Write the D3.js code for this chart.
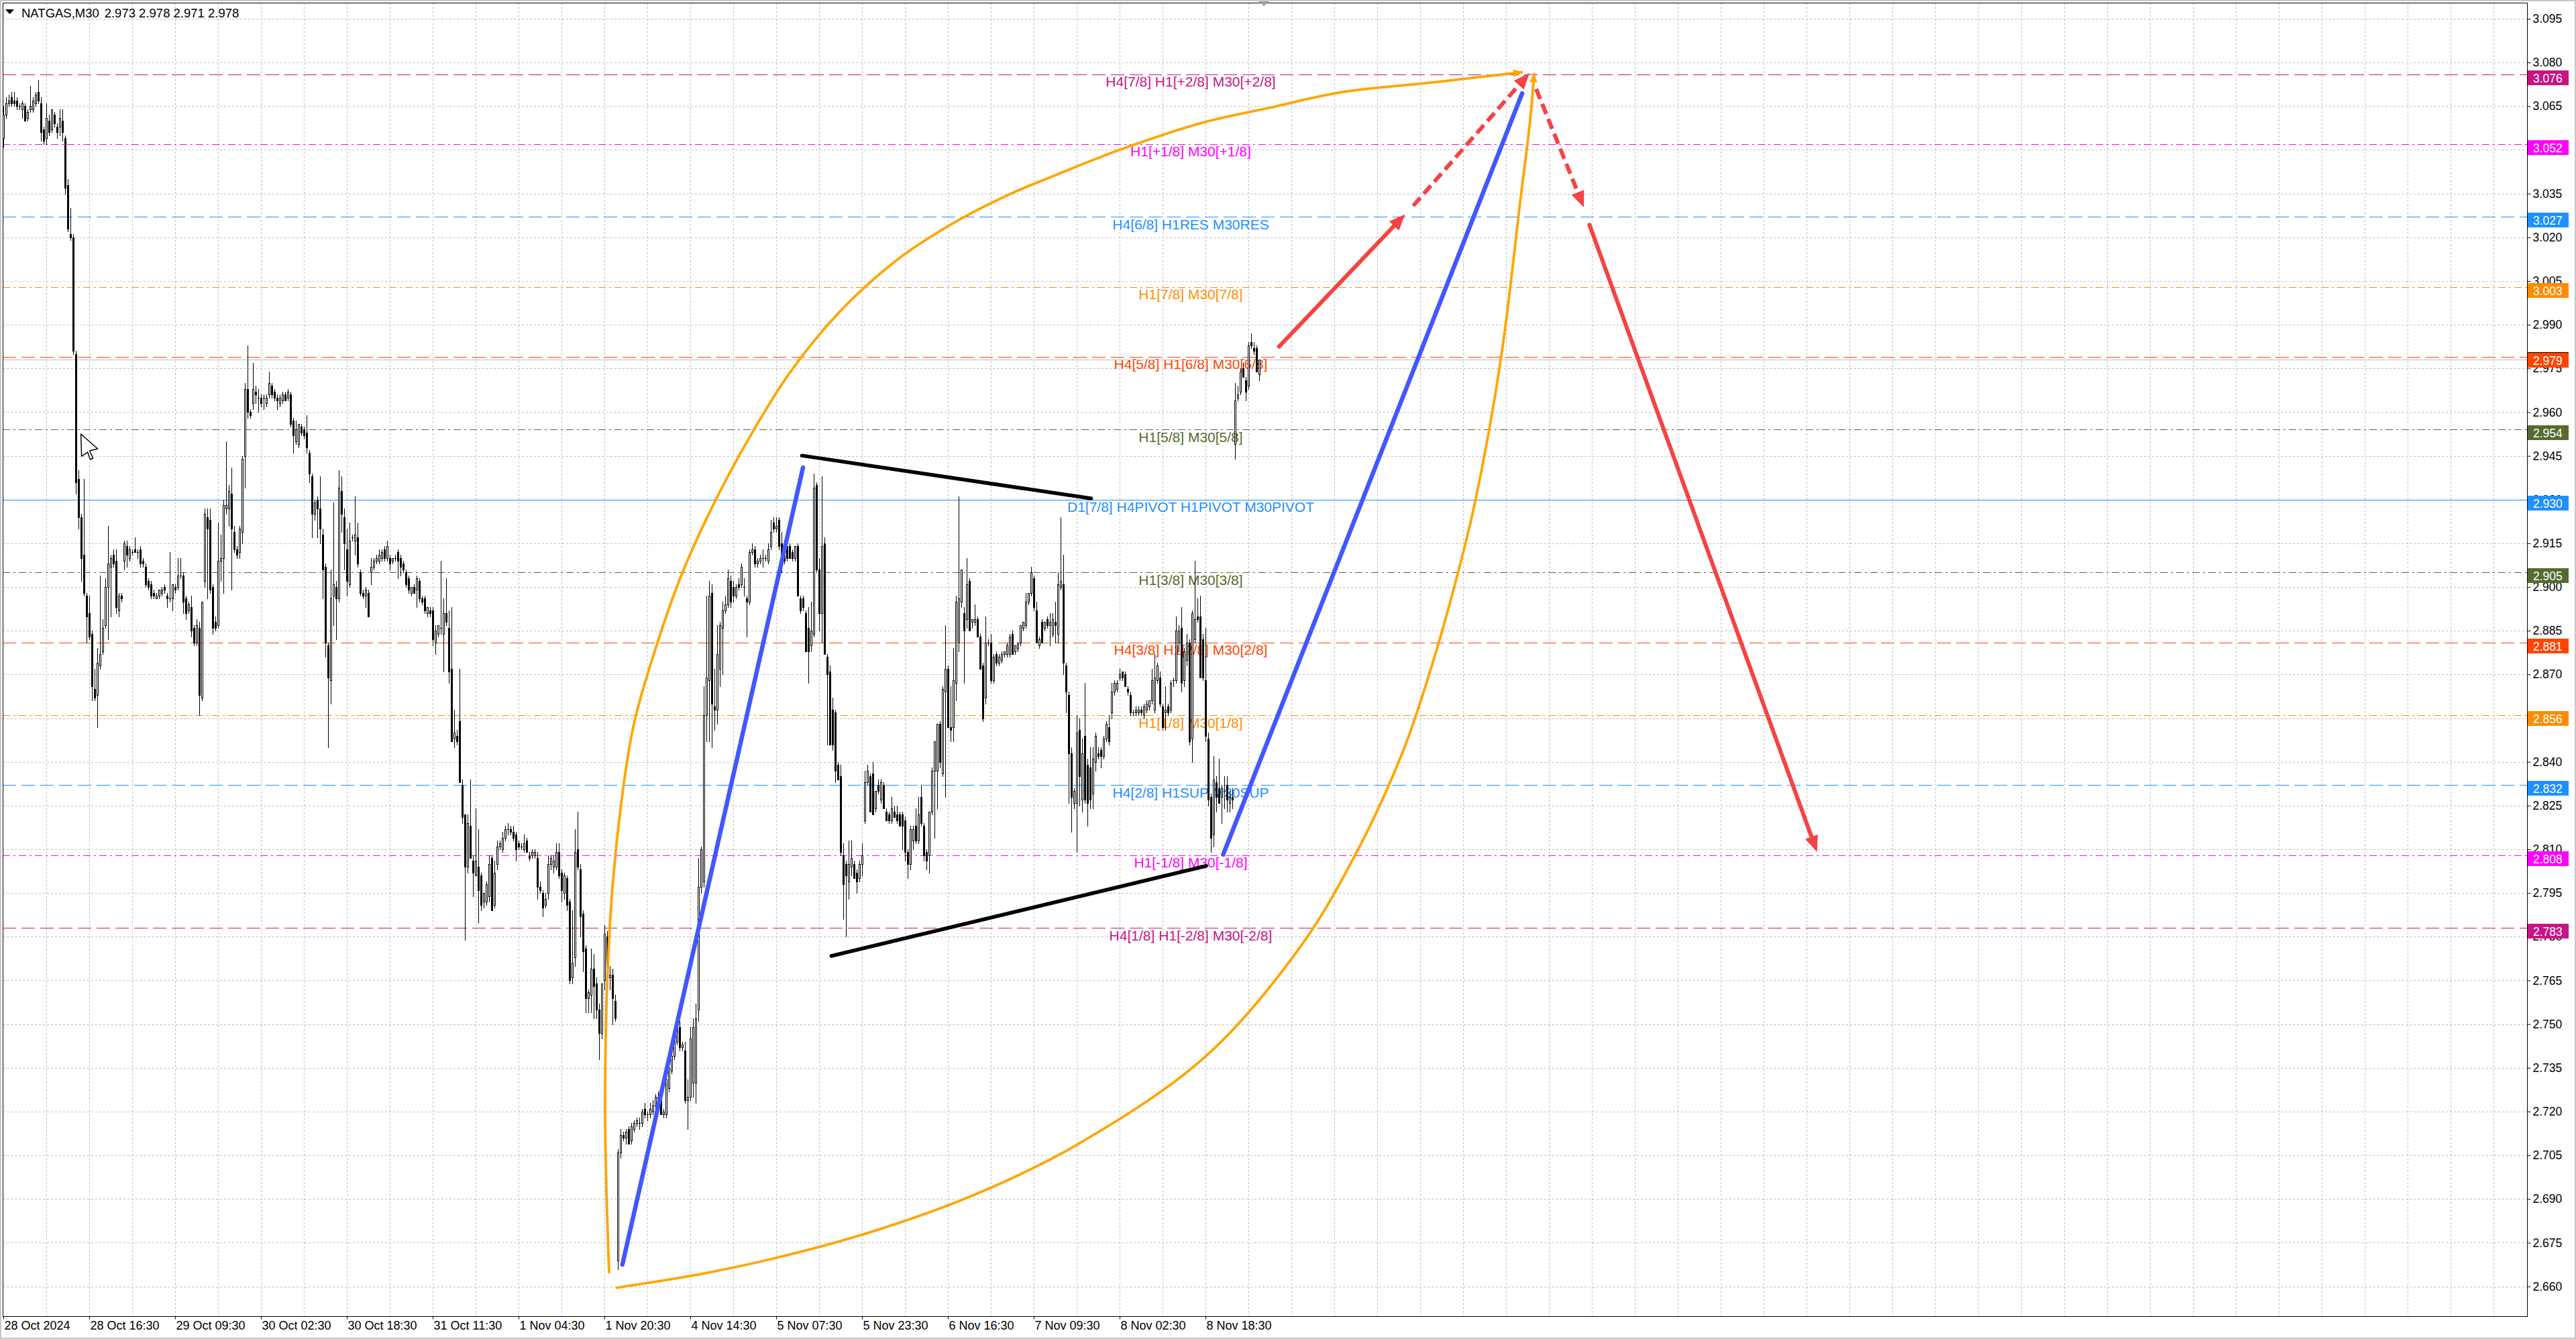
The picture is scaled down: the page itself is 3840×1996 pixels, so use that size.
<!DOCTYPE html>
<html lang="en">
<head>
<meta charset="UTF-8">
<title>NATGAS,M30</title>
<script src="https://cdn.jsdelivr.net/npm/d3@7"></script>
<style>
  html,body{margin:0;padding:0;background:#fff;}
  svg{display:block;}
</style>
</head>
<body>
<div class="chart"></div>
<script>
// ---------- data ----------
// M30 candles, bar 0 = 28 Oct 2024 00:00
const candleOpen=[
3.054,3.062,3.066,3.068,3.067,3.067,3.065,3.064,3.065,3.061,
3.064,3.064,3.066,3.070,3.066,3.057,3.054,3.060,3.057,3.062,
3.058,3.058,3.060,3.054,3.038,3.021,3.020,2.980,2.937,2.924,
2.911,2.897,2.891,2.884,2.865,2.863,2.873,2.878,2.887,2.900,
2.907,2.911,2.909,2.892,2.897,2.909,2.914,2.910,2.912,2.913,
2.912,2.913,2.909,2.907,2.902,2.901,2.898,2.896,2.897,2.898,
2.900,2.897,2.896,2.896,2.900,2.900,2.904,2.904,2.896,2.892,
2.893,2.886,2.881,2.886,2.862,2.902,2.924,2.923,2.900,2.888,
2.887,2.909,2.910,2.927,2.927,2.932,2.919,2.913,2.912,2.919,
2.945,2.968,2.960,2.963,2.967,2.965,2.965,2.965,2.963,2.966,
2.969,2.967,2.965,2.963,2.964,2.966,2.965,2.966,2.957,2.950,
2.949,2.955,2.954,2.953,2.946,2.938,2.925,2.930,2.927,2.918,
2.907,2.880,2.868,2.897,2.900,2.896,2.933,2.924,2.913,2.901,
2.917,2.916,2.917,2.905,2.898,2.897,2.898,2.905,2.907,2.909,
2.909,2.910,2.913,2.910,2.910,2.909,2.910,2.912,2.910,2.908,
2.905,2.903,2.898,2.900,2.899,2.902,2.896,2.896,2.891,2.892,
2.892,2.881,2.884,2.886,2.884,2.891,2.886,2.872,2.848,2.849,
2.854,2.832,2.822,2.804,2.818,2.806,2.801,2.804,2.801,2.792,
2.792,2.794,2.807,2.791,2.805,2.811,2.810,2.814,2.817,2.817,
2.816,2.815,2.812,2.811,2.810,2.813,2.808,2.808,2.808,2.807,
2.797,2.795,2.791,2.795,2.805,2.804,2.804,2.809,2.802,2.795,
2.800,2.792,2.766,2.773,2.810,2.803,2.788,2.776,2.759,2.760,
2.769,2.764,2.755,2.747,2.765,2.780,2.766,2.767,2.758,2.669,
2.706,2.712,2.711,2.714,2.710,2.714,2.716,2.716,2.716,2.721,
2.719,2.719,2.720,2.722,2.724,2.725,2.719,2.719,2.728,2.734,
2.739,2.744,2.749,2.742,2.741,2.724,2.725,2.730,2.730,2.755,
2.797,2.799,2.856,2.868,2.898,2.859,2.858,2.872,2.886,2.892,
2.894,2.902,2.900,2.897,2.901,2.901,2.900,2.896,2.895,2.912,
2.913,2.908,2.909,2.910,2.910,2.909,2.914,2.922,2.920,2.923,
2.915,2.911,2.914,2.914,2.912,2.910,2.914,2.896,2.896,2.891,
2.886,2.880,2.884,2.935,2.906,2.891,2.915,2.876,2.871,2.858,
2.857,2.839,2.835,2.808,2.805,2.799,2.804,2.805,2.802,2.800,
2.805,2.820,2.833,2.835,2.836,2.824,2.832,2.827,2.832,2.823,
2.822,2.820,2.823,2.822,2.822,2.822,2.820,2.809,2.805,2.813,
2.818,2.813,2.828,2.818,2.809,2.808,2.823,2.837,2.837,2.853,
2.836,2.864,2.872,2.852,2.852,2.867,2.881,2.895,2.891,2.889,
2.902,2.888,2.888,2.889,2.883,2.873,2.862,2.881,2.881,2.868,
2.877,2.874,2.875,2.877,2.877,2.877,2.884,2.878,2.879,2.881,
2.886,2.887,2.895,2.898,2.903,2.892,2.880,2.888,2.886,2.889,
2.887,2.884,2.888,2.884,2.900,2.901,2.873,2.863,2.843,2.826,
2.826,2.851,2.827,2.849,2.839,2.838,2.829,2.840,2.843,2.844,
2.842,2.848,2.852,2.857,2.864,2.865,2.869,2.871,2.870,2.865,
2.863,2.857,2.857,2.857,2.858,2.856,2.858,2.859,2.861,2.858,
2.868,2.869,2.859,2.857,2.859,2.858,2.868,2.868,2.881,2.886,
2.868,2.875,2.881,2.848,2.882,2.890,2.890,2.882,2.868,2.848,
2.828,2.815,2.833,2.831,2.828,2.830,2.832,2.826,2.828,2.949,
2.965,2.967,2.975,2.971,2.969,2.984,2.982,2.982,2.973];
const candleHigh=[
3.065,3.068,3.069,3.070,3.070,3.068,3.066,3.067,3.066,3.064,
3.072,3.068,3.070,3.074,3.068,3.058,3.066,3.062,3.064,3.063,
3.059,3.064,3.064,3.055,3.040,3.030,3.021,2.981,2.940,2.925,
2.937,2.898,2.897,2.885,2.872,2.879,2.904,2.889,2.903,2.921,
2.911,2.913,2.913,2.898,2.898,2.916,2.916,2.914,2.913,2.917,
2.913,2.914,2.910,2.908,2.903,2.902,2.899,2.898,2.899,2.900,
2.901,2.898,2.912,2.901,2.901,2.910,2.910,2.905,2.897,2.895,
2.897,2.887,2.889,2.888,2.895,2.927,2.927,2.927,2.901,2.890,
2.922,2.918,2.930,2.950,2.935,2.941,2.921,2.914,2.921,2.945,
2.970,2.983,2.961,2.977,2.969,2.968,2.966,2.966,2.966,2.974,
2.970,2.968,2.966,2.966,2.967,2.967,2.968,2.967,2.958,2.957,
2.956,2.956,2.955,2.959,2.947,2.939,2.930,2.931,2.938,2.920,
2.908,2.881,2.906,2.929,2.902,2.940,2.938,2.927,2.920,2.922,
2.918,2.931,2.922,2.906,2.899,2.900,2.899,2.910,2.910,2.911,
2.913,2.913,2.914,2.916,2.911,2.910,2.911,2.913,2.911,2.909,
2.906,2.904,2.900,2.901,2.904,2.903,2.897,2.897,2.893,2.893,
2.893,2.887,2.887,2.909,2.896,2.903,2.892,2.893,2.858,2.851,
2.872,2.834,2.822,2.822,2.834,2.808,2.824,2.817,2.802,2.795,
2.799,2.808,2.808,2.806,2.813,2.813,2.816,2.818,2.819,2.818,
2.818,2.816,2.813,2.812,2.815,2.814,2.809,2.810,2.810,2.809,
2.799,2.796,2.795,2.808,2.808,2.808,2.812,2.812,2.803,2.802,
2.801,2.793,2.789,2.817,2.823,2.805,2.789,2.777,2.762,2.776,
2.774,2.766,2.757,2.764,2.784,2.782,2.770,2.769,2.760,2.707,
2.714,2.713,2.714,2.715,2.716,2.717,2.718,2.718,2.721,2.723,
2.720,2.723,2.724,2.726,2.727,2.726,2.721,2.734,2.737,2.742,
2.746,2.752,2.751,2.744,2.744,2.731,2.749,2.752,2.757,2.807,
2.811,2.866,2.897,2.902,2.901,2.872,2.887,2.888,2.895,2.897,
2.906,2.904,2.902,2.901,2.903,2.908,2.903,2.897,2.913,2.915,
2.914,2.910,2.911,2.913,2.911,2.915,2.923,2.924,2.924,2.924,
2.919,2.912,2.918,2.915,2.913,2.914,2.915,2.897,2.897,2.892,
2.893,2.895,2.939,2.936,2.910,2.938,2.917,2.877,2.873,2.862,
2.858,2.840,2.839,2.812,2.806,2.813,2.813,2.806,2.803,2.806,
2.812,2.837,2.839,2.836,2.840,2.830,2.834,2.834,2.833,2.824,
2.823,2.828,2.825,2.825,2.823,2.823,2.821,2.810,2.818,2.818,
2.824,2.828,2.832,2.819,2.810,2.823,2.838,2.847,2.853,2.854,
2.866,2.887,2.873,2.866,2.879,2.897,2.931,2.906,2.893,2.910,
2.903,2.889,2.894,2.890,2.884,2.874,2.890,2.882,2.884,2.877,
2.878,2.877,2.878,2.878,2.881,2.884,2.885,2.880,2.881,2.887,
2.888,2.898,2.898,2.907,2.904,2.895,2.883,2.889,2.888,2.890,
2.891,2.891,2.895,2.905,2.924,2.911,2.874,2.864,2.845,2.831,
2.856,2.855,2.848,2.867,2.841,2.845,2.845,2.850,2.845,2.845,
2.849,2.854,2.856,2.867,2.868,2.868,2.872,2.871,2.871,2.866,
2.864,2.858,2.859,2.859,2.859,2.860,2.861,2.861,2.872,2.877,
2.874,2.871,2.860,2.866,2.860,2.868,2.869,2.890,2.887,2.893,
2.879,2.884,2.882,2.892,2.909,2.896,2.897,2.884,2.886,2.850,
2.829,2.842,2.835,2.841,2.832,2.835,2.835,2.830,2.831,2.970,
2.969,2.975,2.977,2.972,2.984,2.987,2.984,2.983,2.978];
const candleLow=[
3.051,3.061,3.065,3.065,3.065,3.064,3.064,3.061,3.060,3.060,
3.063,3.063,3.065,3.066,3.053,3.052,3.052,3.055,3.056,3.058,
3.054,3.055,3.053,3.035,3.022,3.019,2.980,2.932,2.920,2.902,
2.897,2.881,2.882,2.861,2.861,2.852,2.872,2.877,2.886,2.882,
2.890,2.907,2.891,2.890,2.895,2.906,2.907,2.909,2.911,2.912,
2.910,2.907,2.907,2.900,2.899,2.896,2.896,2.896,2.896,2.897,
2.898,2.893,2.895,2.892,2.898,2.899,2.903,2.891,2.889,2.891,
2.883,2.880,2.880,2.856,2.861,2.900,2.896,2.898,2.884,2.885,
2.886,2.902,2.898,2.925,2.921,2.899,2.912,2.910,2.910,2.915,
2.934,2.958,2.958,2.961,2.963,2.960,2.962,2.961,2.962,2.965,
2.965,2.964,2.961,2.962,2.963,2.964,2.964,2.955,2.946,2.949,
2.948,2.952,2.951,2.946,2.936,2.917,2.923,2.917,2.915,2.896,
2.876,2.845,2.860,2.887,2.882,2.895,2.919,2.906,2.897,2.900,
2.916,2.911,2.907,2.897,2.896,2.893,2.890,2.901,2.906,2.908,
2.908,2.909,2.909,2.909,2.906,2.908,2.909,2.903,2.904,2.905,
2.900,2.898,2.897,2.898,2.893,2.895,2.894,2.891,2.890,2.890,
2.880,2.877,2.883,2.884,2.871,2.887,2.867,2.847,2.845,2.846,
2.833,2.819,2.779,2.802,2.807,2.794,2.801,2.785,2.789,2.790,
2.791,2.792,2.789,2.790,2.803,2.810,2.809,2.813,2.815,2.815,
2.813,2.806,2.810,2.810,2.809,2.809,2.806,2.807,2.807,2.793,
2.795,2.787,2.790,2.793,2.803,2.802,2.803,2.800,2.792,2.793,
2.789,2.764,2.764,2.770,2.803,2.780,2.768,2.754,2.754,2.754,
2.752,2.752,2.738,2.745,2.762,2.763,2.762,2.750,2.751,2.666,
2.704,2.710,2.709,2.709,2.709,2.713,2.715,2.714,2.715,2.718,
2.717,2.718,2.719,2.721,2.723,2.719,2.718,2.718,2.727,2.733,
2.738,2.743,2.741,2.741,2.723,2.714,2.724,2.725,2.723,2.751,
2.795,2.797,2.847,2.847,2.845,2.851,2.853,2.866,2.870,2.891,
2.893,2.893,2.895,2.896,2.899,2.900,2.897,2.883,2.894,2.911,
2.907,2.907,2.908,2.907,2.909,2.908,2.913,2.919,2.919,2.913,
2.905,2.908,2.909,2.910,2.909,2.909,2.897,2.891,2.892,2.878,
2.867,2.878,2.883,2.905,2.885,2.881,2.877,2.846,2.846,2.844,
2.833,2.834,2.808,2.786,2.780,2.793,2.801,2.800,2.795,2.799,
2.801,2.819,2.832,2.823,2.822,2.823,2.829,2.826,2.824,2.820,
2.819,2.819,2.821,2.819,2.818,2.810,2.806,2.800,2.803,2.810,
2.812,2.812,2.818,2.806,2.803,2.802,2.822,2.814,2.824,2.838,
2.835,2.828,2.852,2.847,2.847,2.861,2.878,2.893,2.867,2.886,
2.885,2.886,2.887,2.883,2.872,2.854,2.860,2.880,2.867,2.867,
2.873,2.873,2.874,2.876,2.876,2.876,2.877,2.877,2.878,2.880,
2.885,2.886,2.894,2.897,2.892,2.881,2.879,2.881,2.885,2.886,
2.880,2.883,2.881,2.881,2.899,2.870,2.857,2.826,2.816,2.824,
2.809,2.825,2.823,2.826,2.818,2.824,2.824,2.837,2.841,2.838,
2.841,2.847,2.846,2.855,2.863,2.864,2.868,2.868,2.866,2.863,
2.856,2.856,2.856,2.856,2.856,2.855,2.857,2.858,2.860,2.857,
2.867,2.859,2.851,2.851,2.856,2.857,2.866,2.867,2.878,2.864,
2.866,2.873,2.846,2.840,2.881,2.888,2.869,2.868,2.847,2.825,
2.809,2.811,2.823,2.826,2.819,2.824,2.823,2.823,2.824,2.944,
2.964,2.966,2.972,2.964,2.968,2.982,2.980,2.974,2.971];
const candleClose=[
3.062,3.066,3.067,3.066,3.066,3.065,3.065,3.066,3.060,3.063,
3.065,3.067,3.069,3.067,3.056,3.053,3.061,3.056,3.064,3.059,
3.056,3.061,3.056,3.037,3.023,3.020,2.981,2.936,2.924,2.910,
2.898,2.890,2.883,2.866,2.862,2.874,2.877,2.886,2.900,2.908,
2.910,2.908,2.893,2.897,2.896,2.915,2.911,2.913,2.912,2.912,
2.912,2.908,2.908,2.901,2.900,2.897,2.897,2.897,2.899,2.899,
2.899,2.896,2.896,2.901,2.899,2.904,2.904,2.895,2.891,2.894,
2.885,2.881,2.887,2.863,2.895,2.925,2.920,2.899,2.886,2.886,
2.909,2.910,2.928,2.928,2.933,2.920,2.913,2.911,2.920,2.944,
2.968,2.960,2.959,2.968,2.966,2.965,2.963,2.965,2.965,2.970,
2.966,2.965,2.964,2.965,2.966,2.964,2.967,2.956,2.952,2.954,
2.956,2.953,2.952,2.948,2.939,2.925,2.929,2.927,2.920,2.906,
2.881,2.869,2.896,2.901,2.896,2.934,2.925,2.915,2.902,2.916,
2.917,2.918,2.908,2.898,2.897,2.899,2.890,2.907,2.909,2.910,
2.911,2.912,2.910,2.914,2.908,2.910,2.910,2.909,2.907,2.906,
2.901,2.899,2.900,2.898,2.903,2.896,2.895,2.892,2.893,2.891,
2.882,2.885,2.887,2.886,2.891,2.888,2.871,2.847,2.850,2.847,
2.833,2.821,2.804,2.819,2.807,2.802,2.806,2.796,2.791,2.795,
2.798,2.805,2.789,2.802,2.811,2.812,2.814,2.817,2.817,2.816,
2.814,2.810,2.811,2.811,2.812,2.809,2.807,2.809,2.809,2.797,
2.796,2.790,2.793,2.805,2.807,2.806,2.809,2.801,2.796,2.801,
2.791,2.765,2.771,2.809,2.804,2.787,2.775,2.759,2.761,2.769,
2.763,2.755,2.747,2.764,2.781,2.766,2.767,2.759,2.752,2.706,
2.712,2.711,2.713,2.709,2.715,2.716,2.717,2.716,2.720,2.719,
2.719,2.721,2.722,2.725,2.725,2.719,2.720,2.731,2.735,2.739,
2.745,2.750,2.742,2.743,2.724,2.725,2.745,2.749,2.752,2.797,
2.810,2.856,2.869,2.897,2.860,2.858,2.877,2.887,2.892,2.894,
2.903,2.895,2.897,2.900,2.900,2.907,2.900,2.895,2.912,2.913,
2.908,2.909,2.910,2.910,2.910,2.913,2.919,2.920,2.921,2.914,
2.908,2.909,2.910,2.910,2.910,2.914,2.897,2.892,2.893,2.878,
2.878,2.885,2.934,2.906,2.891,2.914,2.877,2.870,2.846,2.846,
2.837,2.834,2.809,2.798,2.801,2.805,2.807,2.800,2.799,2.805,
2.808,2.833,2.837,2.823,2.822,2.830,2.830,2.833,2.824,2.820,
2.820,2.824,2.821,2.820,2.818,2.818,2.809,2.805,2.817,2.817,
2.813,2.822,2.819,2.808,2.806,2.823,2.837,2.847,2.853,2.840,
2.865,2.872,2.852,2.851,2.868,2.895,2.896,2.906,2.885,2.901,
2.885,2.889,2.889,2.883,2.872,2.855,2.881,2.881,2.868,2.876,
2.874,2.876,2.877,2.878,2.880,2.883,2.877,2.880,2.881,2.887,
2.888,2.895,2.898,2.905,2.893,2.881,2.882,2.881,2.888,2.887,
2.888,2.889,2.887,2.901,2.902,2.874,2.864,2.843,2.828,2.830,
2.850,2.835,2.843,2.827,2.826,2.827,2.841,2.849,2.842,2.842,
2.848,2.853,2.847,2.864,2.867,2.867,2.870,2.869,2.866,2.864,
2.857,2.857,2.858,2.858,2.857,2.859,2.860,2.861,2.868,2.869,
2.873,2.860,2.852,2.858,2.857,2.867,2.868,2.885,2.885,2.867,
2.878,2.881,2.847,2.891,2.889,2.889,2.869,2.869,2.849,2.827,
2.814,2.834,2.828,2.826,2.831,2.830,2.827,2.828,2.827,2.964,
2.966,2.974,2.972,2.967,2.983,2.983,2.981,2.974,2.978];

const priceTicks=[3.095,3.080,3.065,3.050,3.035,3.020,3.005,2.990,2.975,2.960,
  2.945,2.930,2.915,2.900,2.885,2.870,2.855,2.840,2.825,2.810,2.795,2.780,
  2.765,2.750,2.735,2.720,2.705,2.690,2.675,2.660];
const timeLabelBars=[0,32,64,96,128,160,192,224,256,288,320,352,384,416,448];
const timeLabels=["28 Oct 2024","28 Oct 16:30","29 Oct 09:30","30 Oct 02:30","30 Oct 18:30",
  "31 Oct 11:30","1 Nov 04:30","1 Nov 20:30","4 Nov 14:30","5 Nov 07:30","5 Nov 23:30",
  "6 Nov 16:30","7 Nov 09:30","8 Nov 02:30","8 Nov 18:30"];

// Murrey-style levels
const levelPrices=[3.076,3.052,3.027,3.003,2.979,2.954,2.930,2.905,2.881,2.856,2.832,2.808,2.783];
const levelNames=["H4[7/8] H1[+2/8] M30[+2/8]","H1[+1/8] M30[+1/8]","H4[6/8] H1RES M30RES",
  "H1[7/8] M30[7/8]","H4[5/8] H1[6/8] M30[6/8]","H1[5/8] M30[5/8]",
  "D1[7/8] H4PIVOT H1PIVOT M30PIVOT","H1[3/8] M30[3/8]","H4[3/8] H1[2/8] M30[2/8]",
  "H1[1/8] M30[1/8]","H4[2/8] H1SUP M30SUP","H1[-1/8] M30[-1/8]","H4[1/8] H1[-2/8] M30[-2/8]"];
const levelKinds=["dash","dashdot","dash","dashdot","dash","dashdot","solid","dashdot","dash","dashdot","dash","dashdot","dash"];
const levelLabelBar=442.5;
const lastPrice=2.978;
const titleSymbol="NATGAS,M30";
const titleQuote="2.973 2.978 2.971 2.978";

// drawn objects, as [bar, price]
const upperArc=[[225.75,2.6645],[224.25,2.7227],[226,2.7837],[229.3,2.8183],[234.9,2.8526],
  [243.85,2.8811],[252.75,2.9042],[263.9,2.9270],[278.4,2.9519],[292.6,2.9729],[311,2.9938],
  [332.4,3.0118],[353.9,3.0248],[375.3,3.0349],[388.75,3.0401],[416.25,3.0501],[447.1,3.0594],
  [472.1,3.0645],[498.75,3.0698],[535.1,3.0734],[566.25,3.0767]];
const lowerArc=[[228.25,2.6595],[259,2.6641],[286.25,2.6694],[323.75,2.6788],[361.25,2.6912],
  [400.25,2.7087],[448,2.7389],[483.25,2.7764],[504,2.8084],[521.5,2.8434],[531.75,2.8712],
  [541.25,2.9019],[548.5,2.9293],[558.1,2.9784],[565.4,3.0331],[569,3.0602],[570.5,3.0764]];
const blueLines=[[[230.7,2.6675],[298.0,2.941]],[[454.6,2.8082],[566,3.0694]]];
const blackLines=[[[297.6,2.9451],[405.4,2.9304]],[[308.6,2.7734],[448.3,2.8043]]];
const redArrows=[[[475.4,2.9825],[522.4,3.0279]],[[525.4,3.0308],[568.75,3.0764]],
  [[571.25,3.0709],[589,3.0303]],[[591.1,3.0243],[675.9,2.8091]]];
const redDashed=[false,true,true,false];
const cursorAt=[28.9,2.9525];

// ---------- styles ----------
const levelColor={3.076:"#C71585",3.052:"#FF00FF",3.027:"#1E90FF",3.003:"#FF8C00",2.979:"#FF4500",
  2.954:"#556B2F",2.930:"#1E90FF",2.905:"#556B2F",2.881:"#FF4500",2.856:"#FF8C00",
  2.832:"#1E90FF",2.808:"#FF00FF",2.783:"#C71585"};
const dashFor={dash:"20,8",dashdot:"11,5,3,5",solid:null};
const FONT='"Liberation Sans", Arial, sans-serif';
const W=3840,H=1996;
const L=4,T=4,R=3767,B=1962;

const xScale=d3.scaleLinear().domain([0,940]).range([5,3765]);
const yScale=d3.scaleLinear().domain([2.660,3.095]).range([1917.6,28]);
const px=v=>Math.round(v)+0.5;

const svg=d3.select('.chart').append('svg').attr('width',W).attr('height',H)
  .style('font-family',FONT);
svg.append('rect').attr('width',W).attr('height',H).attr('fill','#fff');
svg.append('defs').append('clipPath').attr('id','plot')
  .append('rect').attr('x',L).attr('y',T).attr('width',R-L).attr('height',B-T);

// grid
const grid=svg.append('g').attr('stroke','#c0c0c0').attr('stroke-dasharray','3,3').attr('stroke-width',1);
grid.selectAll('line.h').data(priceTicks).join('line').attr('class','h')
  .attr('x1',L).attr('x2',R).attr('y1',d=>px(yScale(d))).attr('y2',d=>px(yScale(d)));
const gridBars=d3.range(16,940,16);
grid.selectAll('line.v').data(gridBars.filter(b=>xScale(b)<R)).join('line').attr('class','v')
  .attr('y1',T).attr('y2',B).attr('x1',d=>px(xScale(d))).attr('x2',d=>px(xScale(d)));

// levels
const lev=svg.append('g').attr('clip-path','url(#plot)');
lev.selectAll('line').data(levelPrices).join('line')
  .attr('x1',L).attr('x2',R).attr('y1',d=>px(yScale(d))).attr('y2',d=>px(yScale(d)))
  .attr('stroke',d=>levelColor[d]).attr('stroke-width',1)
  .attr('stroke-dasharray',(d,i)=>dashFor[levelKinds[i]]);
lev.selectAll('text').data(levelPrices).join('text')
  .attr('x',xScale(levelLabelBar)).attr('y',d=>yScale(d)+18.5)
  .attr('text-anchor','middle').attr('font-size',21).attr('fill',d=>levelColor[d])
  .text((d,i)=>levelNames[i]);
lev.append('line').attr('x1',L).attr('x2',R)
  .attr('y1',px(yScale(lastPrice))).attr('y2',px(yScale(lastPrice)))
  .attr('stroke','#c0c0c0').attr('stroke-width',1);

// candles
const idx=d3.range(candleClose.length);
const cg=svg.append('g').attr('clip-path','url(#plot)').attr('shape-rendering','crispEdges');
const cx=i=>Math.round(xScale(i));
cg.selectAll('line.wick').data(idx).join('line').attr('class','wick')
  .attr('x1',i=>cx(i)+0.5).attr('x2',i=>cx(i)+0.5)
  .attr('y1',i=>Math.round(yScale(candleHigh[i]))).attr('y2',i=>Math.round(yScale(candleLow[i]))+1)
  .attr('stroke','#000').attr('stroke-width',1);
idx.forEach(i=>{
  const o=candleOpen[i],c=candleClose[i];
  const top=Math.round(yScale(Math.max(o,c))),bot=Math.round(yScale(Math.min(o,c)));
  const h=bot-top;
  if(h<2){
    cg.append('rect').attr('x',cx(i)-1).attr('y',top).attr('width',3).attr('height',Math.max(1,h)).attr('fill','#000');
  }else if(c<o){
    cg.append('rect').attr('x',cx(i)-1).attr('y',top).attr('width',3).attr('height',h+1).attr('fill','#000');
  }else{
    cg.append('rect').attr('x',cx(i)-0.5).attr('y',top+0.5).attr('width',2).attr('height',h)
      .attr('fill','#fff').attr('stroke','#000').attr('stroke-width',1);
  }
});

// drawn objects
const og=svg.append('g').attr('clip-path','url(#plot)');
const P=d=>[xScale(d[0]),yScale(d[1])];
function head(g,a,b,len,half,color){
  const ang=Math.atan2(b[1]-a[1],b[0]-a[0]);
  const bx=b[0]-len*Math.cos(ang),by=b[1]-len*Math.sin(ang);
  const ox=-Math.sin(ang)*half,oy=Math.cos(ang)*half;
  g.append('path').attr('d',`M${b[0]},${b[1]}L${bx+ox},${by+oy}L${bx-ox},${by-oy}Z`).attr('fill',color);
  return [b[0]-len*0.7*Math.cos(ang),b[1]-len*0.7*Math.sin(ang)];
}
const arcLine=d3.line().x(d=>xScale(d[0])).y(d=>yScale(d[1])).curve(d3.curveCatmullRom.alpha(0.5));
[upperArc,lowerArc].forEach(arc=>{
  og.append('path').attr('d',arcLine(arc)).attr('fill','none')
    .attr('stroke','#FFA500').attr('stroke-width',3.8);
  head(og,P(arc[arc.length-2]),P(arc[arc.length-1]),14,6,'#FFA500');
});
blueLines.forEach(s=>{
  og.append('line').attr('x1',P(s[0])[0]).attr('y1',P(s[0])[1]).attr('x2',P(s[1])[0]).attr('y2',P(s[1])[1])
    .attr('stroke','#4157FF').attr('stroke-width',6.5).attr('stroke-linecap','round');
});
blackLines.forEach(s=>{
  og.append('line').attr('x1',P(s[0])[0]).attr('y1',P(s[0])[1]).attr('x2',P(s[1])[0]).attr('y2',P(s[1])[1])
    .attr('stroke','#000').attr('stroke-width',5.5).attr('stroke-linecap','round');
});
redArrows.forEach((s,i)=>{
  const a=P(s[0]),b=P(s[1]);
  const e=head(og,a,b,24,10,'#F44343');
  og.append('line').attr('x1',a[0]).attr('y1',a[1]).attr('x2',e[0]).attr('y2',e[1])
    .attr('stroke','#F44343').attr('stroke-width',6).attr('stroke-linecap',redDashed[i]?'butt':'round')
    .attr('stroke-dasharray',redDashed[i]?'16,8':null);
});

// mouse cursor
const cp=P(cursorAt);
svg.append('path').attr('transform',`translate(${cp[0]},${cp[1]})`)
  .attr('d','M0,0L25,22L13,25L18,36L14,38L10,27L1,33Z')
  .attr('fill','#fff').attr('stroke','#000').attr('stroke-width',1.5).attr('stroke-linejoin','round');

// frame
svg.append('rect').attr('x',L+0.5).attr('y',T+0.5).attr('width',R-L).attr('height',B-T)
  .attr('fill','none').attr('stroke','#000').attr('stroke-width',1);

// price axis
const yAxis=d3.axisRight(yScale).tickValues(priceTicks).tickFormat(d3.format('.3f')).tickSize(5).tickSizeOuter(0);
const ya=svg.append('g').attr('transform',`translate(${R+0.5},0)`).call(yAxis);
ya.select('.domain').remove();
ya.selectAll('text').attr('font-family',FONT).attr('font-size',17.5).attr('fill','#000');
ya.selectAll('line').attr('stroke','#000');

// time axis
const xAxis=d3.axisBottom(xScale).tickValues(timeLabelBars).tickFormat((d,i)=>timeLabels[i]).tickSize(4).tickSizeOuter(0);
const xa=svg.append('g').attr('transform',`translate(0,${B+0.5})`).call(xAxis);
xa.select('.domain').remove();
xa.selectAll('text').attr('font-family',FONT).attr('font-size',18).attr('fill','#000')
  .attr('text-anchor','start').attr('x',1);
xa.selectAll('line').attr('stroke','#000');

// price badges
const badge=svg.append('g');
const by0=yScale(lastPrice);
badge.append('rect').attr('x',R+1).attr('y',Math.round(by0)-11).attr('width',61).attr('height',22).attr('fill','#000');
badge.selectAll('rect.lv').data(levelPrices).join('rect').attr('class','lv')
  .attr('x',R+1).attr('y',d=>Math.round(yScale(d))-6).attr('width',61).attr('height',22)
  .attr('fill',d=>levelColor[d]);
badge.selectAll('text').data(levelPrices).join('text')
  .attr('x',R+9).attr('y',d=>Math.round(yScale(d))+11.5)
  .attr('font-size',17.5).attr('fill','#fff').text(d=>d.toFixed(3));

// title
svg.append('path').attr('d','M8,14L21,14L14.5,21Z').attr('fill','#000');
svg.append('text').attr('x',32).attr('y',26).attr('font-size',18.5).attr('fill','#000').text(titleSymbol);
svg.append('text').attr('x',155.7).attr('y',26).attr('font-size',18.5).attr('fill','#000').text(titleQuote);

// chart shift marker and window border
svg.append('path').attr('d','M1876,2L1892,2L1884,9Z').attr('fill','#a0a0a0');
svg.append('rect').attr('x',1).attr('y',1).attr('width',W-2).attr('height',H-2)
  .attr('fill','none').attr('stroke','#c8c8c8').attr('stroke-width',2);
</script>
</body>
</html>
